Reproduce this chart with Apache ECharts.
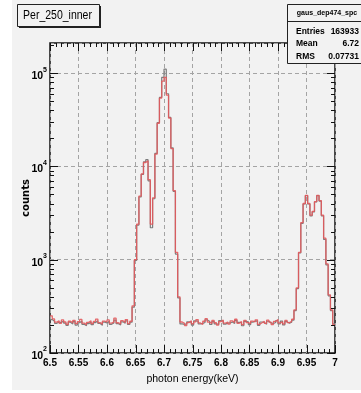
<!DOCTYPE html>
<html>
<head>
<meta charset="utf-8">
<script src="https://cdn.jsdelivr.net/npm/echarts@6/dist/echarts.min.js"></script>
<style>
  html, body { margin: 0; padding: 0; background: #ffffff; }
  #chart { width: 361px; height: 393px; }
</style>
</head>
<body>
<div id="chart"></div>
<script>
// Histogram binning: 125 bins of 4 eV from 6.5 keV to 7.0 keV
const binStart = 6.5;
const binWidth = 0.004;

// Reference spectrum (grey)
const countsRef = [
  228, 219, 208, 215, 212, 220, 209, 198, 214, 205, 217, 199, 211, 220, 203, 196, 206, 215,
  201, 212, 222, 207, 198, 214, 210, 219, 203, 210, 225, 206, 200, 216, 209, 221, 202, 214,
  310, 980, 2350, 4700, 8200, 11200, 11800, 7000, 2200, 4500, 13800, 29500, 55000, 90000,
  110000, 60000, 33500, 15800, 5400, 1150, 390, 205,
  203, 205, 216, 214, 199, 221, 220, 205, 208, 212, 226, 219, 202, 217, 205, 203, 223, 220,
  204, 209, 210, 215, 207, 224, 213, 212, 196, 218, 216, 201, 214, 220, 221, 198, 215, 213,
  203, 219, 210, 207, 212, 223, 205, 220, 200, 217, 208, 214,
  225, 285, 490, 1180, 2450, 3950, 4850, 3950, 2950, 3250, 4150, 4850, 4250, 2950, 1650,
  880, 410, 285, 205
];

// Per_250_inner spectrum (red)
const countsInner = [
  250, 232, 214, 221, 208, 226, 215, 203, 219, 211, 224, 206, 217, 229, 209, 201, 213, 222,
  207, 218, 231, 212, 204, 220, 215, 226, 209, 214, 236, 211, 205, 222, 213, 228, 206, 219,
  320, 1000, 2400, 4800, 8300, 11000, 11500, 7200, 2400, 4600, 13500, 29000, 54000, 82000,
  90000, 58000, 33000, 15500, 5500, 1200, 400, 215,
  208, 197, 212, 221, 205, 216, 228, 210, 202, 219, 233, 214, 207, 223, 211, 199, 217, 226,
  209, 215, 204, 221, 213, 230, 208, 218, 201, 224, 212, 206, 220, 215, 227, 203, 211, 219,
  208, 225, 214, 202, 218, 229, 210, 216, 205, 223, 212, 218,
  230, 290, 500, 1200, 2500, 4000, 4900, 4000, 3000, 3300, 4200, 4900, 4300, 3000, 1700,
  900, 420, 290, 200
];

// Axis ticks
const xTickLabels = ['6.5', '6.55', '6.6', '6.65', '6.7', '6.75', '6.8', '6.85', '6.9', '6.95', '7'];
const yTickExponents = [2, 3, 4, 5];

// Stats box contents
const statsTitle = 'gaus_dep474_spc';
const statsRows = [['Entries', '163933'], ['Mean', '6.72'], ['RMS', '0.07731']];

const FONT = '"Liberation Sans", Arial, sans-serif';
const X_MIN = 6.5, X_MAX = 7.0, Y_MIN = 100, Y_MAX = 210000;

// Step-histogram points: left edge of each bin, plus the closing edge
function histPoints(counts) {
  const pts = counts.map((c, i) => [binStart + i * binWidth, c]);
  pts.push([binStart + counts.length * binWidth, counts[counts.length - 1]]);
  return pts;
}

const chart = echarts.init(document.getElementById('chart'), null, { renderer: 'canvas' });

// Frame ticks on all four sides (log minor ticks at 2..9 per decade)
function renderTicks(params, api) {
  const cs = params.coordSys;
  const left = cs.x, right = cs.x + cs.width, top = cs.y, bottom = cs.y + cs.height;
  const children = [];
  const line = (x1, y1, x2, y2) => children.push({
    type: 'line', shape: { x1, y1, x2, y2 },
    style: { stroke: '#111', lineWidth: 1 }
  });
  // x ticks: majors every 0.05, minors every 0.01
  for (let k = 0; k <= 50; k++) {
    const xv = X_MIN + k * 0.01;
    const px = Math.round(api.coord([xv, Y_MIN])[0]) + 0.5;
    const len = (k % 5 === 0) ? 8 : 4;
    line(px, bottom, px, bottom - len);
    line(px, top, px, top + len);
  }
  // y ticks
  for (let d = 2; d <= 5; d++) {
    for (let m = 1; m <= 9; m++) {
      const yv = m * Math.pow(10, d);
      if (yv > Y_MAX) continue;
      const py = Math.round(api.coord([X_MIN, yv])[1]) + 0.5;
      const len = (m === 1) ? 8 : 4;
      line(left, py, left + len, py);
      line(right, py, right - len, py);
    }
  }
  return { type: 'group', children };
}

const option = {
  backgroundColor: '#ffffff',
  animation: false,
  grid: {
    left: 50, right: 26, top: 43, bottom: 40,
    show: true, borderColor: '#111', borderWidth: 1.5, backgroundColor: 'transparent'
  },
  xAxis: {
    type: 'value', min: X_MIN, max: X_MAX, interval: 0.05,
    name: 'photon energy(keV)', nameLocation: 'middle', nameGap: 21, nameMoveOverlap: false,
    nameTextStyle: { fontFamily: FONT, fontSize: 10.5, color: '#000' },
    axisLine: { show: false }, axisTick: { show: false },
    axisLabel: {
      margin: 5, fontFamily: FONT, fontSize: 10, fontWeight: 'bold', color: '#000',
      formatter: (v) => xTickLabels[Math.round((v - X_MIN) / 0.05)] || ''
    },
    splitLine: { show: true, lineStyle: { color: '#a4a4a4', type: [4, 3], width: 1 } }
  },
  yAxis: {
    type: 'log', logBase: 10, min: Y_MIN, max: Y_MAX,
    name: 'counts', nameLocation: 'middle', nameGap: 19, nameMoveOverlap: false,
    nameTextStyle: { fontFamily: '"DejaVu Sans", sans-serif', fontSize: 10, fontWeight: 'bold', color: '#000' },
    axisLine: { show: false }, axisTick: { show: false },
    axisLabel: {
      margin: 3, color: '#000',
      formatter: (v) => {
        const e = Math.round(Math.log10(v));
        if (Math.abs(Math.log10(v) - e) > 1e-6 || yTickExponents.indexOf(e) < 0) return '';
        return '{b|10}{s|' + e + '}';
      },
      rich: {
        b: { fontFamily: FONT, fontSize: 10.5, fontWeight: 'bold', color: '#000', lineHeight: 14, padding: [6, 0, 0, 0] },
        s: { fontFamily: FONT, fontSize: 7, fontWeight: 'bold', color: '#000', lineHeight: 8, verticalAlign: 'top' }
      }
    },
    splitLine: {
      show: true,
      lineStyle: { color: '#a4a4a4', type: [4, 3], width: 1 }
    }
  },
  series: [
    {
      name: 'reference', type: 'line', step: 'end', symbol: 'none',
      data: histPoints(countsRef),
      lineStyle: { color: '#7d7d7d', width: 1.2 },
      z: 3
    },
    {
      name: 'Per_250_inner', type: 'line', step: 'end', symbol: 'none',
      data: histPoints(countsInner),
      lineStyle: { color: '#e2595c', width: 1.3, opacity: 0.9 },
      z: 4
    },
    {
      type: 'custom', silent: true, z: 5,
      data: [[X_MIN, Y_MIN]],
      renderItem: renderTicks
    }
  ],
  graphic: [
    // canvas pad
    { type: 'rect', z: -10, shape: { x: 12, y: 0, width: 349, height: 390 }, style: { fill: '#f2f2f2' }, silent: true },
    // title box with shadow
    { type: 'rect', z: 10, shape: { x: 19, y: 6, width: 82, height: 22 }, style: { fill: '#222' } },
    { type: 'rect', z: 11, shape: { x: 17.5, y: 4.5, width: 82, height: 22 }, style: { fill: '#f2f2f2', stroke: '#222', lineWidth: 1 } },
    {
      type: 'text', z: 12, x: 57.5, y: 15.5, scaleX: 0.84,
      style: { text: 'Per_250_inner', fill: '#000', font: '12.5px ' + FONT, align: 'center', verticalAlign: 'middle' }
    },
    // stats box
    { type: 'rect', z: 10, shape: { x: 287.5, y: 4.5, width: 80, height: 59 }, style: { fill: '#f2f2f2', stroke: '#222', lineWidth: 1 } },
    { type: 'line', z: 11, shape: { x1: 287.5, y1: 21.5, x2: 361, y2: 21.5 }, style: { stroke: '#222', lineWidth: 1 } },
    {
      type: 'text', z: 12, x: 327, y: 13,
      style: { text: statsTitle, fill: '#000', font: 'bold 7px ' + FONT, align: 'center', verticalAlign: 'middle' }
    },
    ...statsRows.flatMap((r, i) => [
      {
        type: 'text', z: 12, x: 296, y: 31.5 + i * 12.5,
        style: { text: r[0], fill: '#000', font: 'bold 8.5px ' + FONT, align: 'left', verticalAlign: 'middle' }
      },
      {
        type: 'text', z: 12, x: 359, y: 31.5 + i * 12.5,
        style: { text: r[1], fill: '#000', font: 'bold 8.5px ' + FONT, align: 'right', verticalAlign: 'middle' }
      }
    ])
  ]
};

chart.setOption(option);
</script>
</body>
</html>
